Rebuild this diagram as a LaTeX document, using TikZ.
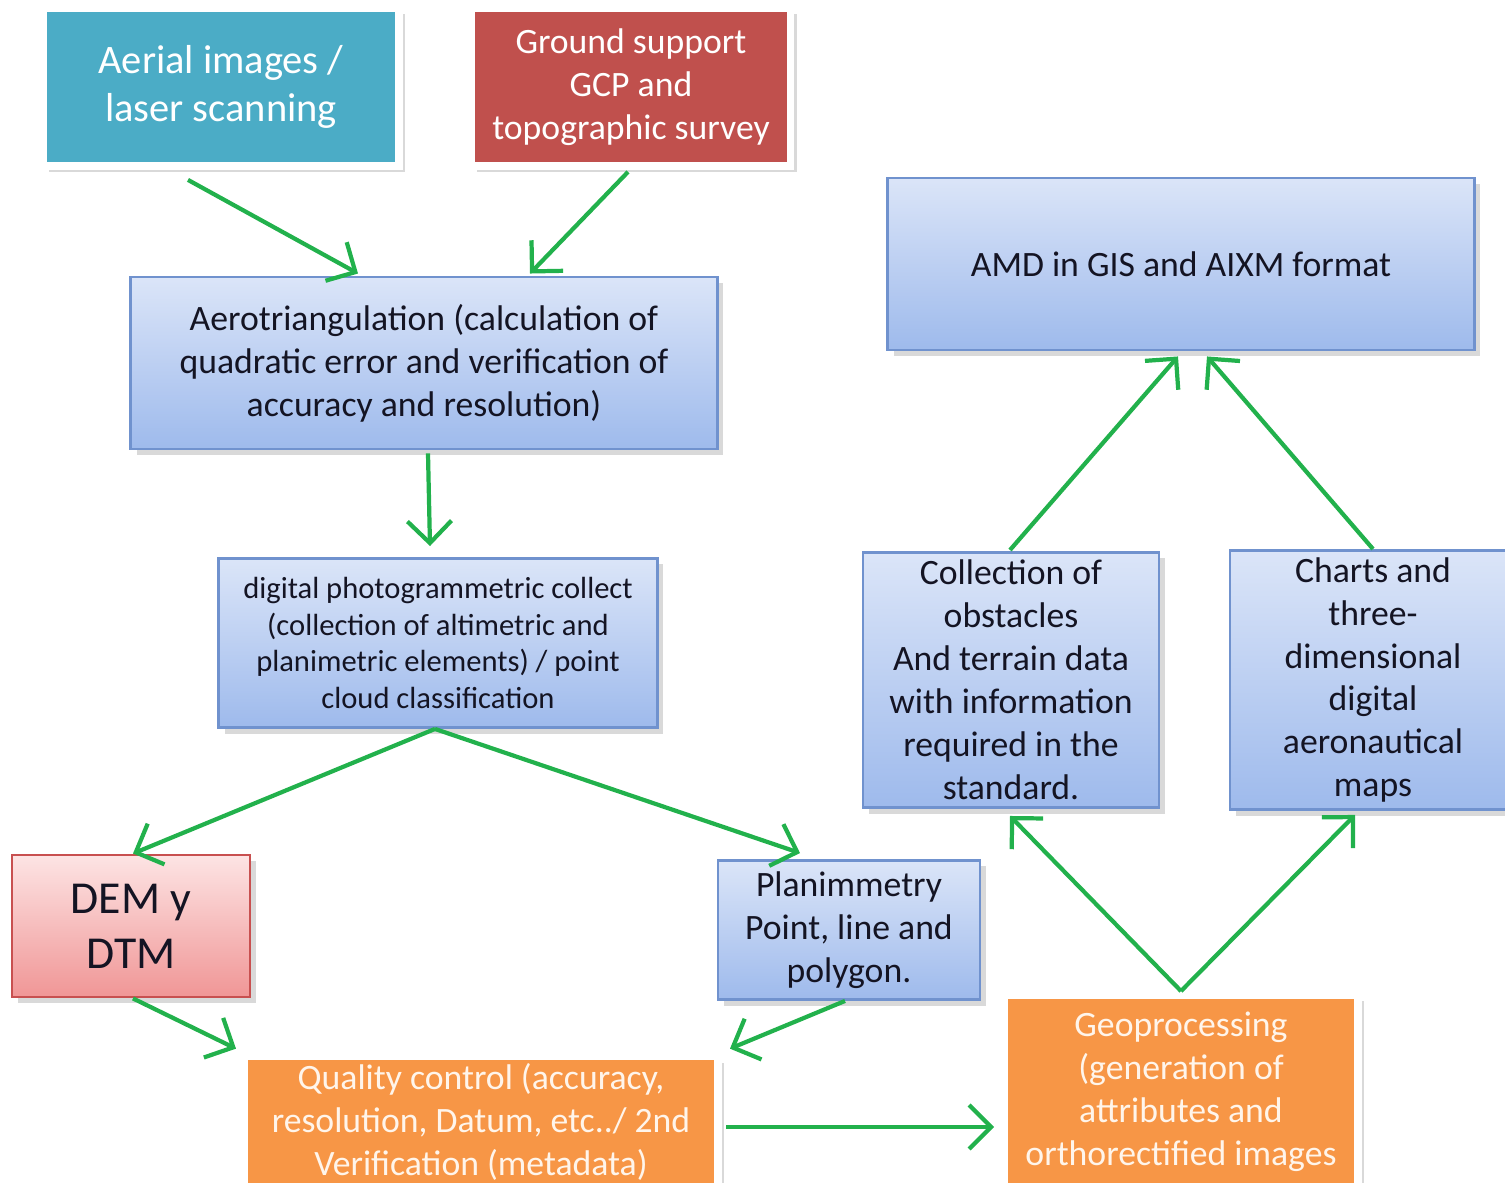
\documentclass[tikz,border=0pt]{standalone}
\usepackage{fontspec}
\setmainfont{Carlito}
\usetikzlibrary{shadows,calc,arrows.meta}
\definecolor{tealfill}{RGB}{75,172,198}
\definecolor{redfill}{RGB}{192,80,77}
\definecolor{orangefill}{RGB}{247,150,70}
\definecolor{bluetop}{RGB}{219,229,248}
\definecolor{bluebot}{RGB}{158,186,236}
\definecolor{blueline}{RGB}{112,146,206}
\definecolor{pinktop}{RGB}{253,228,228}
\definecolor{pinkbot}{RGB}{240,150,150}
\definecolor{pinkline}{RGB}{200,80,80}
\definecolor{flowgreen}{RGB}{34,177,76}
\definecolor{darktext}{RGB}{20,20,35}
\begin{document}
\begin{tikzpicture}[x=0.01cm, y=-0.01cm,
	box/.style = {rectangle, align=center, inner sep=2pt, text=darktext,
		font=\fontsize{10.15}{12.2}\selectfont,
		drop shadow={opacity=0.3, shadow xshift=0.6mm, shadow yshift=-0.6mm}},
	framed/.style = {box, draw=white, line width=2.2pt, text=white},
	bluebox/.style = {box, draw=blueline, thick, top color=bluetop, bottom color=bluebot},
	pinkbox/.style = {box, draw=pinkline, thick, top color=pinktop, bottom color=pinkbot},
	orangebox/.style = {framed, fill=orangefill, text=white!92!orange},
	flow/.style = {draw=flowgreen, line width=1.2pt, -{Straight Barb[length=2.2mm, width=4.4mm]}}]
	\useasboundingbox (0,0) rectangle (1505,1183);
	
	\node[framed, fill=tealfill, minimum width=3.56cm, minimum height=1.58cm, font=\fontsize{11.5}{13.4}\selectfont] (aerial) at (221,87) {Aerial images /\\laser scanning};
	\node[framed, fill=redfill, minimum width=3.19cm, minimum height=1.58cm] (ground) at (631,87) {Ground support\\GCP and\\topographic survey};
	\node[bluebox, minimum width=5.86cm, minimum height=1.72cm] (aero) at (424,363) {Aerotriangulation (calculation of\\quadratic error and verification of\\accuracy and resolution)};
	\node[bluebox, minimum width=5.86cm, minimum height=1.72cm] (amd) at (1181,264) {AMD in GIS and AIXM format};
	\node[bluebox, minimum width=4.38cm, minimum height=1.69cm, font=\fontsize{8.7}{10.5}\selectfont] (digital) at (438,643) {digital photogrammetric collect\\(collection of altimetric and\\planimetric elements) / point\\cloud classification};
	\node[bluebox, minimum width=2.96cm, minimum height=2.55cm] (obstacles) at (1011,680) {Collection of\\obstacles\\And terrain data\\with information\\required in the\\standard.};
	\node[bluebox, minimum width=2.86cm, minimum height=2.55cm] (charts) at (1373,680) {Charts and\\three-\\dimensional\\digital\\aeronautical\\maps};
	\node[pinkbox, minimum width=2.38cm, minimum height=1.42cm, font=\fontsize{13}{15.6}\selectfont] (dem) at (131,926) {DEM y\\DTM};
	\node[bluebox, minimum width=2.62cm, minimum height=1.39cm] (plan) at (849,930) {Planimmetry\\Point, line and\\polygon.};
	\node[orangebox, minimum width=4.74cm, minimum height=1.20cm] (quality) at (481,1122) {Quality control (accuracy,\\resolution, Datum, etc../ 2nd\\Verification (metadata)};
	\node[orangebox, minimum width=3.54cm, minimum height=1.94cm] (geo) at (1181,1092) {Geoprocessing\\(generation of\\attributes and\\orthorectified images};
	
	\draw[flow] ($(aerial.south)+(-33,10)$) -- ($(aero.north)+(-66,-2)$);
	\draw[flow] ($(ground.south)+(-3,2)$) -- ($(aero.north)+(106,-2)$);
	\draw[flow] ($(aero.south)+(4,3)$) -- ($(digital.north)+(-8,-11)$);
	\draw[flow] ($(digital.south)+(-3,0)$) -- ($(dem.north)+(2,0)$);
	\draw[flow] ($(digital.south)+(-3,0)$) -- ($(plan.north)+(-49,-6)$);
	\draw[flow] ($(dem.south)+(2,0)$) -- ($(quality.north west)+(-4,-4)$);
	\draw[flow] ($(plan.south)+(-4,0)$) -- ($(quality.north east)+(8,-4)$);
	\draw[flow] ($(quality.east)+(4,5)$) -- ($(geo.west)+(-6,35)$);
	\draw[flow] (geo.north) -- ($(obstacles.south)+(-1,7)$);
	\draw[flow] (geo.north) -- ($(charts.south)+(-18,4)$);
	\draw[flow] ($(obstacles.north)+(-1,-1)$) -- ($(amd.south)+(-3,5)$);
	\draw[flow] (charts.north) -- ($(amd.south)+(26,5)$);
\end{tikzpicture}
\end{document}
